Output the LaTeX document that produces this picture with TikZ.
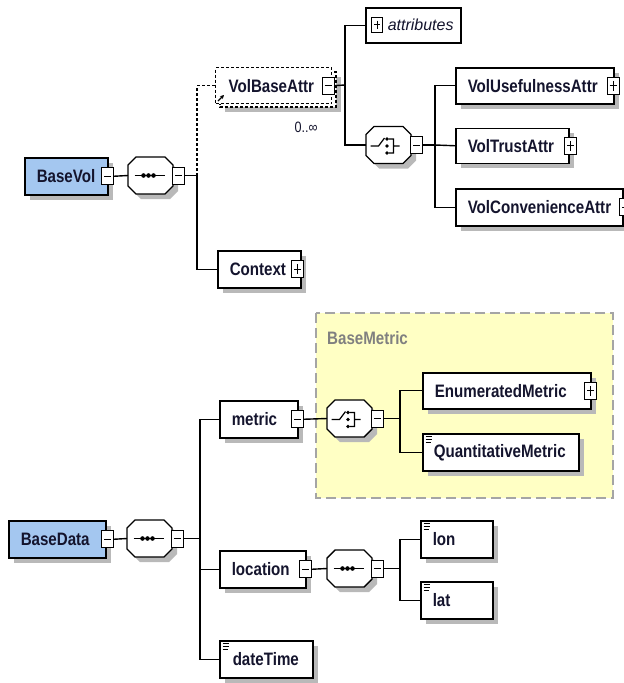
\documentclass[tikz,border=0pt]{standalone}
\usepackage{fontspec}
\setmainfont{Liberation Sans}
\newfontfamily\narrowsans{Liberation Sans}[FakeStretch=0.84]
\usetikzlibrary{shadows,arrows.meta}
\hyphenpenalty=10000
\exhyphenpenalty=10000
\definecolor{inkc}{RGB}{20,20,45}
\definecolor{rootblue}{RGB}{164,199,240}
\definecolor{grpyellow}{RGB}{255,255,196}
\definecolor{grpedge}{RGB}{165,165,165}
\definecolor{grplabelc}{RGB}{128,128,128}
\definecolor{shadowgray}{RGB}{185,185,185}

% octagonal compositor outline around a named slot node
\newcommand\octoutline[1]{%
  \path[shadowed, draw=black, line width=1.4pt, fill=white]
    ([xshift=8pt]#1.north west) -- ([xshift=-8pt]#1.north east)
    -- ([yshift=-8pt]#1.north east) -- ([yshift=8pt]#1.south east)
    -- ([xshift=-8pt]#1.south east) -- ([xshift=8pt]#1.south west)
    -- ([yshift=8pt]#1.south west) -- ([yshift=-8pt]#1.north west) -- cycle;}
% sequence symbol
\newcommand\seqicon[1]{%
  \octoutline{#1}%
  \begin{scope}[shift={(#1.center)}]
    \draw[line width=1.2pt] (-16,0)--(14,0);
    \fill[black] (-7,0) circle (2.3) (-2,0) circle (2.3) (3,0) circle (2.3);
  \end{scope}}
% choice symbol
\newcommand\choiceicon[1]{%
  \octoutline{#1}%
  \begin{scope}[shift={(#1.center)}]
    \draw[line width=1.2pt] (-18,1)--(-10,1)--(-4,-7)
      (0,-6)--(5,-6)--(5,8)--(0,8) (5,1)--(11,1);
    \fill[black] (-1.5,-6) circle (1.8) (-1.5,1) circle (1.8) (-1.5,8) circle (1.8);
  \end{scope}}
% simple-type marker in the upper left corner of an element
\newcommand\simpleicon[1]{%
  \draw[line width=0.8pt]
    ([xshift=3.5pt,yshift=-3.5pt]#1.north west) -- ++(6,0)
    ([xshift=3.5pt,yshift=-6.5pt]#1.north west) -- ++(6,0)
    ([xshift=3.5pt,yshift=-9.5pt]#1.north west) -- ++(5,0);}

\begin{document}
\begin{tikzpicture}[x=1pt,y=-1pt,
  conn/.style={line width=1.4pt, draw=black},
  refconn/.style={line width=1.2pt, draw=black, dash pattern=on 3pt off 2pt},
  shadowed/.style={drop shadow={shadow xshift=5pt, shadow yshift=-5pt, fill=shadowgray, opacity=1}},
  elembase/.style={draw=black, line width=1.5pt, fill=white, rectangle, anchor=north west,
    inner xsep=12pt, inner ysep=0pt, align=left, text=inkc,
    font=\narrowsans\bfseries\fontsize{18}{21}\selectfont},
  elem/.style={elembase, shadowed},
  root/.style={elem, fill=rootblue},
  btn/.style={draw=black, line width=1pt, fill=white, minimum width=12pt,
    minimum height=17pt, inner sep=0pt},
  minusbtn/.style={btn, path picture={
    \draw[line width=1pt] ([xshift=2.5pt]path picture bounding box.west)
      -- ([xshift=-2.5pt]path picture bounding box.east);}},
  plusbtn/.style={btn, path picture={
    \draw[line width=1pt] ([xshift=2.5pt]path picture bounding box.west)
      -- ([xshift=-2.5pt]path picture bounding box.east)
      ([yshift=-3.5pt]path picture bounding box.north)
      -- ([yshift=3.5pt]path picture bounding box.south);}},
  octslot/.style={rectangle, minimum width=45pt, minimum height=37pt, inner sep=0pt, outer sep=0pt}
]
\useasboundingbox (0,0) rectangle (624,683);
\fill[white] (0,0) rectangle (624,683);

% ---------- BaseVol ----------
\node[root, text width=59pt, minimum height=37pt] (basevol) at (24,157) {BaseVol};
\node[minusbtn] (bvb) at ([xshift=-1pt]basevol.east) {};
\node[octslot] (seq1) at (150.5,175.5) {};
\seqicon{seq1}
\node[minusbtn, anchor=west] (s1b) at ([xshift=-1pt]seq1.east) {};
\coordinate (j1) at (197,175.5);

% referenced element, repeated 0..unbounded
\path[shadowed, fill=white, draw=black, dash pattern=on 3pt off 2pt, line width=1.2pt]
  (220,72) rectangle (336,107);
\node[elembase, dash pattern=on 3pt off 2pt, line width=1.2pt, inner xsep=13pt,
  text width=90pt, minimum height=36pt] (volbase) at (215,67) {VolBaseAttr};
\node[minusbtn] (vbb) at ([xshift=-4pt]volbase.east) {};
\draw[line width=1.2pt, -{Stealth[length=4pt,width=4pt]}] (218,101) -- (224,95);
\node[text=inkc, font=\narrowsans\fontsize{15}{17}\selectfont] (occurs) at (306,127) {0..∞};
\coordinate (j2) at (345,85);

\node[draw=black, line width=1.5pt, fill=white, anchor=north west, inner xsep=12pt,
  inner ysep=0pt, text width=71pt, minimum height=35pt, align=left, text=inkc,
  font=\itshape\fontsize{16}{19}\selectfont] (attrs) at (365,7) {\hspace*{10pt}attributes};
\node[plusbtn, minimum width=11pt, minimum height=15pt] (ab) at (377,24.5) {};

\node[octslot] (ch2) at (388.5,145) {};
\choiceicon{ch2}
\node[minusbtn, anchor=west] (c2b) at ([xshift=-1pt]ch2.east) {};
\coordinate (j3) at (435,145);

\node[elem, text width=134pt, minimum height=36pt] (usef) at (455,67) {VolUsefulnessAttr};
\node[plusbtn] (ub) at ([xshift=-1.5pt]usef.east) {};
\node[elem, text width=89pt, minimum height=35pt] (trust) at (455,127.5) {VolTrustAttr};
\node[plusbtn] (tb) at ([xshift=1pt]trust.east) {};
\node[elem, text width=143pt, minimum height=37pt] (conv) at (455,188) {VolConvenienceAttr};
\node[plusbtn] (cvb) at ([xshift=2pt]conv.east) {};

\node[elem, text width=59pt, minimum height=37pt] (context) at (217,250) {Context};
\node[plusbtn] (ctb) at ([xshift=-4pt]context.east) {};

\draw[conn] (bvb.east) -- (seq1.west);
\draw[conn] (s1b.east) -- (j1) |- (context.west);
\draw[refconn] (j1) |- (volbase.west);
\draw[conn] (vbb.east) -- (j2);
\draw[conn] (attrs.west) -| (j2) |- (ch2.west);
\draw[conn] (c2b.east) -- (j3);
\draw[conn] (usef.west) -| (j3) |- (conv.west);
\draw[conn] (j3) -- (trust.west);

% ---------- BaseData ----------
\draw[fill=grpyellow, draw=grpedge, line width=1.5pt, dash pattern=on 10pt off 5pt]
  (316,313) rectangle (613,498);
\node[anchor=west, text=grplabelc, inner sep=0pt,
  font=\narrowsans\bfseries\fontsize{18}{21}\selectfont] (grplabel) at (327,338) {BaseMetric};

\node[root, text width=73pt, minimum height=37pt] (basedata) at (8,520) {BaseData};
\node[minusbtn] (bdb) at ([xshift=1pt]basedata.east) {};
\node[octslot] (seq2) at (149.5,538.5) {};
\seqicon{seq2}
\node[minusbtn, anchor=west] (s2b) at ([xshift=-1pt]seq2.east) {};
\coordinate (j4) at (200,538.5);

\node[elem, text width=54pt, minimum height=37pt] (metric) at (219,400) {metric};
\node[minusbtn] (mb) at ([xshift=-1pt]metric.east) {};
\node[octslot] (ch3) at (349.5,418.5) {};
\choiceicon{ch3}
\node[minusbtn, anchor=west] (c3b) at ([xshift=-1pt]ch3.east) {};
\coordinate (j5) at (400,418.5);
\node[elem, text width=144pt, minimum height=36pt] (enum) at (422,372) {EnumeratedMetric};
\node[plusbtn] (eb) at ([xshift=-1pt]enum.east) {};
\node[elem, inner xsep=11pt, text width=134pt, minimum height=37pt] (quant) at (422,433) {QuantitativeMetric};
\simpleicon{quant}

\node[elem, text width=62pt, minimum height=37pt] (location) at (219,550) {location};
\node[minusbtn] (lb) at ([xshift=-1pt]location.east) {};
\node[octslot] (seq3) at (349.5,568.5) {};
\seqicon{seq3}
\node[minusbtn, anchor=west] (s3b) at ([xshift=-1pt]seq3.east) {};
\coordinate (j6) at (400,568.5);
\node[elem, text width=48pt, minimum height=37pt] (lon) at (420,520) {lon};
\simpleicon{lon}
\node[elem, text width=48pt, minimum height=37pt] (lat) at (420,581) {lat};
\simpleicon{lat}

\node[elem, inner xsep=13pt, text width=67pt, minimum height=37pt] (datetime) at (219,640) {dateTime};
\simpleicon{datetime}

\draw[conn] (bdb.east) -- (seq2.west);
\draw[conn] (s2b.east) -- (j4);
\draw[conn] (metric.west) -| (j4) |- (datetime.west);
\draw[conn] (j4) |- (location.west);
\draw[conn] (mb.east) -- (ch3.west);
\draw[conn] (c3b.east) -- (j5);
\draw[conn] (enum.west) -| (j5) |- (quant.west);
\draw[conn] (lb.east) -- (seq3.west);
\draw[conn] (s3b.east) -- (j6);
\draw[conn] (lon.west) -| (j6) |- (lat.west);
\end{tikzpicture}
\end{document}
